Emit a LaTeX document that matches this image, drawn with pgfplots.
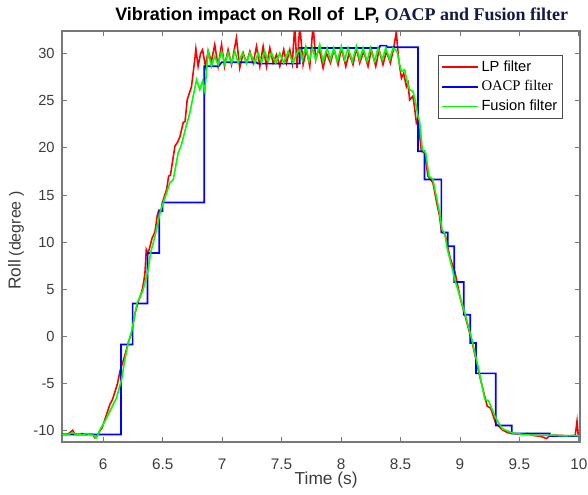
\documentclass[border=0pt]{standalone}
\usepackage{pgfplots}
\pgfplotsset{compat=1.18}
\usepackage{fontspec}
\setmainfont{Liberation Sans}
\newfontfamily\timesf{Liberation Serif}
\definecolor{axgray}{RGB}{120,120,120}
\definecolor{tickgray}{RGB}{60,60,60}
\definecolor{navy}{RGB}{20,25,70}
\definecolor{lpred}{RGB}{255,0,0}
\definecolor{oblue}{RGB}{0,0,255}
\definecolor{fgreen}{RGB}{0,255,0}

\pgfplotstableread{
x y
5.65 -10.3
5.68 -10.4
5.71 -10.3
5.743 -9.95
5.76 -10.35
5.79 -10.4
5.82 -10.3
5.85 -10.4
5.88 -10.35
5.91 -10.4
5.93 -10.75
5.95 -10.5
5.972 -10.0
5.99 -9.7
6.014 -8.8
6.035 -8.0
6.056 -7.2
6.077 -6.7
6.098 -5.9
6.12 -5.0
6.14 -3.7
6.16 -2.9
6.182 -2.0
6.21 -0.7
6.239 0.4
6.266 2.4
6.294 3.7
6.31 4.2
6.331 5.1
6.35 6.6
6.362 9.2
6.375 8.8
6.39 9.4
6.41 10.4
6.435 11.1
6.455 12.9
6.468 13.4
6.485 13.3
6.505 14.5
6.533 15.6
6.55 17.0
6.565 17.1
6.603 20.2
6.625 20.6
6.645 21.2
6.673 22.7
6.688 22.8
6.706 25.1
6.742 26.5
6.77 29.4
6.779 30.5
6.798 28.65
6.818 30.0
6.835 30.4
6.86 28.65
6.882 30.24
6.91 29.18
6.938 30.95
6.966 28.65
6.995 30.95
7.02 28.65
7.05 30.42
7.079 28.83
7.12 31.66
7.148 28.48
7.177 30.07
7.205 29.01
7.233 30.24
7.261 29.01
7.289 30.77
7.317 28.65
7.345 30.77
7.373 28.65
7.401 30.6
7.429 29.01
7.457 29.89
7.485 28.65
7.518 30.42
7.541 29.01
7.569 30.42
7.59 29.01
7.611 33.0
7.63 28.48
7.653 33.0
7.681 28.83
7.709 30.42
7.737 28.65
7.765 33.0
7.787 29.36
7.815 30.6
7.849 28.48
7.877 30.07
7.911 29.01
7.942 30.42
7.975 28.83
8.003 30.6
8.04 28.65
8.068 30.07
8.101 28.83
8.129 30.6
8.157 29.01
8.191 30.24
8.227 28.65
8.255 30.42
8.292 28.65
8.32 30.42
8.353 28.83
8.381 30.24
8.415 29.01
8.443 30.6
8.465 32.3
8.482 29.71
8.493 28.65
8.508 27.4
8.527 27.9
8.55 26.5
8.563 26.9
8.577 25.1
8.605 25.5
8.619 24.2
8.634 22.65
8.647 23.0
8.676 19.64
8.703 19.5
8.731 17.0
8.773 16.3
8.802 14.34
8.829 12.75
8.845 11.1
8.874 10.9
8.916 8.41
8.959 6.79
9.002 4.1
9.045 2.11
9.102 -0.58
9.159 -3.82
9.201 -5.97
9.23 -7.41
9.258 -7.6
9.301 -9.2
9.358 -9.92
9.4 -10.2
9.444 -10.29
9.52 -10.4
9.57 -10.3
9.614 -10.5
9.68 -10.6
9.729 -10.83
9.75 -10.6
9.785 -10.47
9.85 -10.5
9.93 -10.55
9.97 -10.5
9.985 -9.0
9.995 -10.5
10.01 -10.5
}\lpdata

\pgfplotstableread{
x y
5.65 -10.4
6.149 -10.4
6.149 -0.86
6.247 -0.86
6.247 3.5
6.373 3.5
6.373 8.86
6.471 8.86
6.471 13.28
6.499 13.28
6.499 14.2
6.849 14.2
6.849 28.65
6.97 28.65
6.995 29.08
7.289 29.08
7.30 28.94
7.653 28.94
7.653 30.6
8.32 30.6
8.33 30.85
8.38 30.85
8.39 30.67
8.647 30.67
8.647 19.64
8.703 19.64
8.703 16.64
8.844 16.64
8.844 11.03
8.897 11.03
8.897 9.56
8.953 9.56
8.953 5.78
9.033 5.78
9.033 2.29
9.087 2.29
9.087 -0.69
9.135 -0.69
9.135 -3.92
9.301 -3.92
9.301 -9.46
9.435 -9.46
9.435 -10.29
9.756 -10.29
9.756 -10.57
10.01 -10.57
}\oacpdata

\pgfplotstableread{
x y
5.65 -10.4
5.68 -10.35
5.71 -10.4
5.74 -10.2
5.77 -10.4
5.80 -10.35
5.83 -10.45
5.86 -10.3
5.89 -10.4
5.92 -10.5
5.94 -10.75
5.955 -10.4
5.972 -9.9
6.014 -9.0
6.056 -7.93
6.085 -7.2
6.112 -6.5
6.154 -4.57
6.182 -2.45
6.21 -0.68
6.239 0.55
6.266 2.32
6.285 3.56
6.31 4.2
6.336 4.97
6.378 7.1
6.398 8.86
6.435 10.63
6.477 13.1
6.504 14.15
6.533 15.23
6.561 16.3
6.589 16.64
6.63 19.47
6.658 20.35
6.686 21.76
6.728 23.7
6.756 25.47
6.785 27.24
6.812 26.18
6.835 27.06
6.855 26.0
6.882 30.24
6.91 28.65
6.938 29.71
6.966 28.83
6.995 30.24
7.023 28.83
7.05 30.07
7.079 29.01
7.107 30.24
7.135 29.01
7.171 30.07
7.205 29.01
7.233 30.07
7.275 29.01
7.303 30.07
7.331 29.01
7.359 30.24
7.387 29.18
7.415 30.07
7.451 29.01
7.485 30.07
7.518 29.01
7.555 30.24
7.597 29.01
7.63 30.07
7.653 30.42
7.675 29.36
7.703 30.77
7.731 29.18
7.759 30.6
7.787 29.36
7.821 30.95
7.849 29.18
7.883 30.6
7.911 29.36
7.939 30.6
7.967 29.18
8.003 30.77
8.031 29.36
8.059 30.6
8.095 29.18
8.129 30.77
8.157 29.36
8.185 30.6
8.219 29.18
8.247 30.6
8.283 29.18
8.311 30.6
8.348 29.36
8.376 30.6
8.409 29.36
8.437 30.6
8.471 30.24
8.493 28.83
8.508 28.12
8.535 28.3
8.555 27.06
8.577 26.18
8.605 26.0
8.628 24.77
8.647 23.36
8.661 22.8
8.684 19.82
8.712 19.47
8.74 17.0
8.773 16.64
8.807 14.5
8.829 13.1
8.85 11.3
8.874 10.9
8.89 9.5
8.96 5.9
9.045 2.3
9.102 -0.4
9.159 -3.6
9.21 -6.7
9.24 -6.8
9.301 -8.66
9.358 -9.8
9.444 -10.25
9.53 -10.4
9.614 -10.47
9.70 -10.5
9.785 -10.47
9.88 -10.55
9.95 -10.5
10.01 -10.55
}\fusiondata

\begin{document}
\begin{tikzpicture}
\useasboundingbox (-46.5pt,-39pt) rectangle (394.5pt,331.5pt);
\begin{axis}[
  at={(0,0)}, anchor=south west,
  scale only axis, width=388.5pt, height=308.25pt,
  xmin=5.653, xmax=10.01, ymin=-11.2, ymax=32.4,
  xtick={6,6.5,7,7.5,8,8.5,9,9.5,10},
  ytick={-10,-5,0,5,10,15,20,25,30},
  xticklabels={6,6.5,7,7.5,8,8.5,9,9.5,10},
  yticklabels={-10,-5,0,5,10,15,20,25,30},
  tick align=inside, xtick pos=both, ytick pos=both,
  major tick length=3.75pt,
  axis line style={axgray, line width=0.8pt},
  tick style={axgray, line width=0.6pt},
  xticklabel style={text=tickgray, font=\fontsize{11.5}{12}\selectfont, yshift=-9pt},
  yticklabel style={text=tickgray, font=\fontsize{11}{12}\selectfont, xshift=-2pt},
  xlabel={Time (s)},
  xlabel style={text=tickgray, font=\fontsize{13}{15}\selectfont, at={(axis description cs:0.51,0)}, anchor=center, yshift=-28.5pt},
  ylabel={{\fontsize{13}{15}\selectfont Roll} {\fontsize{12}{14}\selectfont(degree )}},
  ylabel style={text=tickgray, at={(axis description cs:-0.089,0.49)}, anchor=center},
  title={{\bfseries Vibration impact on Roll of\ \ LP, }{\timesf\bfseries\color{navy}OACP and Fusion filter}},
  title style={font=\fontsize{13.5}{15}\selectfont, at={(axis description cs:0.54,1)}, anchor=center, yshift=5pt},
  legend cell align=left,
  legend style={at={(axis description cs:0.726,0.942)}, anchor=north west,
    draw=black!70, line width=0.6pt, font=\fontsize{11}{13}\selectfont,
    inner sep=2pt, row sep=1.5pt},
  legend image code/.code={\draw[mark repeat=2,mark phase=2,#1] plot coordinates {(0pt,0pt) (13.5pt,0pt) (27pt,0pt)};},
]
\addplot[lpred, line width=1.2pt] table[x=x,y=y] {\lpdata};
\addlegendentry{LP filter}
\addplot[oblue, line width=1.3pt] table[x=x,y=y] {\oacpdata};
\addlegendentry{{\timesf OACP filter}}
\addplot[fgreen, line width=1.2pt] table[x=x,y=y] {\fusiondata};
\addlegendentry{Fusion filter}
\end{axis}
\end{tikzpicture}
\end{document}
